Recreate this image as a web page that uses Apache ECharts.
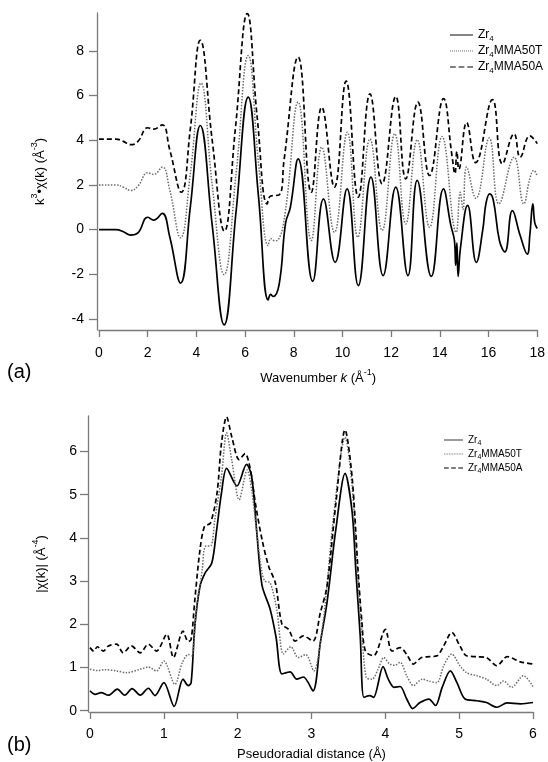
<!DOCTYPE html>
<html><head><meta charset="utf-8">
<script src="https://cdn.jsdelivr.net/npm/echarts@6/dist/echarts.min.js"></script>
<style>html,body{margin:0;padding:0;background:#fff}#c{width:548px;height:762px}</style>
</head><body><div id="c"></div>
<script>
// ---- (a) k^3-weighted EXAFS ----
var zr4K   = [0,0.7,1.0,1.3,1.6,2.0,2.25,2.6,2.9,3.35,3.75,4.16,4.65,5.14,5.63,6.13,6.55,6.95,7.05,7.15,7.4,7.66,7.86,8.18,8.78,9.22,9.70,10.19,10.65,11.17,11.67,12.19,12.69,13.07,13.65,14.15,14.45,14.6,14.65,14.7,14.75,14.85,15.14,15.5,15.76,15.9,16.05,16.2,16.45,16.67,16.98,17.3,17.59,17.7,17.82,17.9,18.0];
var zr4Chi = [0,0,-0.1,-0.25,-0.15,0.55,0.42,0.72,-0.3,-2.4,1.0,4.66,0.2,-4.27,0.8,5.93,1.5,-3.15,-2.9,-3.0,-2.45,0.27,1.0,3.17,-2.32,1.37,-1.47,1.82,-2.51,2.35,-2.06,1.9,-2.06,2.2,-2.1,1.82,0.2,-0.5,-1.6,-0.6,-2.1,-0.8,1.08,-1.47,-0.04,1.2,1.6,1.3,-0.5,-1.0,0.85,-0.27,-1.1,-0.2,1.15,0.3,0.05];
var t50K   = [0,0.7,1.0,1.3,1.6,2.0,2.25,2.6,2.9,3.35,3.75,4.19,4.65,5.14,5.63,6.13,6.55,6.95,7.05,7.2,7.36,7.66,8.18,8.72,9.15,9.67,10.2,10.63,11.13,11.63,12.15,12.6,13.07,13.58,14.09,14.67,14.84,14.95,15.1,15.48,16.03,16.43,17.05,17.45,17.7,17.86,18.0];
var t50Chi = [2.0,2.0,1.9,1.75,1.95,2.54,2.47,2.8,1.8,-0.37,2.5,6.56,2.0,-2.02,2.5,7.8,3.0,-0.72,-0.4,-0.5,-0.46,0.85,5.71,-0.49,3.69,-0.12,4.36,-0.34,4.06,-0.04,4.29,0.25,4.02,0.1,4.17,-0.12,1.67,0.9,2.8,1.4,4.1,1.15,3.24,1.15,2.3,2.65,2.4];
var a50K   = [0,0.7,1.0,1.3,1.6,2.0,2.25,2.6,2.9,3.38,3.75,4.16,4.65,5.15,5.6,6.09,6.5,6.91,7.05,7.4,7.6,8.18,8.72,9.15,9.67,10.15,10.65,11.13,11.63,12.19,12.6,13.1,13.58,14.15,14.5,14.62,14.7,14.78,15.1,15.47,16.16,16.57,17.05,17.3,17.7,18.0];
var a50Chi = [4.05,4.05,3.95,3.8,3.95,4.56,4.5,4.69,3.6,1.67,4.5,8.48,4.0,-0.07,4.5,9.67,5.0,1.15,1.5,1.55,3.1,7.73,1.67,5.48,1.9,6.65,1.45,6.08,2.05,5.96,2.27,5.71,2.42,5.86,3.3,2.5,3.5,2.7,4.8,3.0,5.82,2.94,4.29,3.24,4.2,3.85];
var topXTicks = [0,2,4,6,8,10,12,14,16,18];
var topYTicks = [-4,-2,0,2,4,6,8];

// ---- (b) Fourier transform magnitude ----
var zr4R  = [0,0.07,0.15,0.25,0.37,0.47,0.57,0.68,0.79,0.88,1.0,1.14,1.26,1.33,1.37,1.42,1.49,1.56,1.65,1.71,1.78,1.85,1.99,2.12,2.19,2.26,2.33,2.44,2.52,2.6,2.71,2.80,2.89,3.02,3.12,3.21,3.33,3.455,3.55,3.6,3.66,3.71,3.79,3.84,3.97,4.04,4.12,4.2,4.29,4.37,4.47,4.59,4.68,4.77,4.88,4.97,5.08,5.24,5.37,5.51,5.65,5.83,6.0];
var zr4Ft = [0.46,0.38,0.42,0.36,0.5,0.36,0.51,0.36,0.52,0.35,0.65,0.1,0.73,0.58,0.65,1.96,2.88,3.19,3.42,4.11,5.03,5.61,5.2,5.7,5.42,4.11,2.9,2.35,1.7,0.85,0.9,0.73,0.78,0.46,1.58,2.5,4.2,5.49,4.6,3.26,1.73,0.31,0.35,0.31,1.02,0.73,0.54,0.56,0.27,0.05,0.19,0.27,0.12,0.54,0.92,0.65,0.27,0.23,0.19,0.08,0.18,0.16,0.19];
var t50R  = [0,0.1,0.2,0.36,0.5,0.68,0.79,0.9,1.0,1.15,1.25,1.33,1.38,1.44,1.52,1.56,1.64,1.69,1.78,1.85,1.92,2.02,2.13,2.19,2.26,2.33,2.37,2.44,2.53,2.62,2.72,2.82,2.92,3.03,3.16,3.3,3.455,3.55,3.62,3.68,3.74,3.82,3.9,3.98,4.06,4.13,4.2,4.29,4.38,4.5,4.6,4.7,4.79,4.9,5.01,5.1,5.24,5.37,5.51,5.6,5.71,5.87,6.0];
var t50Ft = [0.96,0.93,0.95,0.92,0.88,0.96,1.01,0.92,1.15,0.61,1.11,1.3,1.27,2.34,3.26,3.8,3.82,4.42,5.41,6.43,5.8,4.88,5.57,5.1,4.1,3.19,3.0,2.96,2.34,1.31,1.48,1.23,1.3,0.92,2.1,4.5,6.33,5.2,3.26,1.9,0.77,0.73,0.95,1.23,1.08,1.05,1.12,0.81,0.58,0.73,0.68,0.65,1.04,1.31,1.04,0.88,0.81,0.73,0.58,0.69,0.54,0.81,0.56];
var a50R  = [0,0.05,0.1,0.18,0.25,0.36,0.45,0.56,0.68,0.79,0.9,1.04,1.13,1.26,1.33,1.37,1.42,1.49,1.55,1.63,1.72,1.78,1.85,1.92,2.02,2.1,2.17,2.24,2.33,2.42,2.51,2.6,2.69,2.78,2.89,3.02,3.12,3.21,3.33,3.455,3.55,3.63,3.68,3.73,3.84,4.0,4.09,4.2,4.29,4.38,4.49,4.6,4.7,4.79,4.9,5.01,5.1,5.24,5.37,5.51,5.65,5.83,6.0];
var a50Ft = [1.46,1.38,1.48,1.38,1.5,1.54,1.34,1.5,1.34,1.54,1.38,1.77,1.23,1.84,1.6,1.65,2.57,3.73,4.26,4.34,5.03,6.18,6.8,6.34,5.81,5.95,5.6,4.8,3.96,3.34,2.96,2.0,1.88,1.61,1.73,1.61,2.27,2.88,4.8,6.5,5.4,3.26,2.11,1.38,1.27,1.88,1.38,1.46,1.3,1.08,1.23,1.25,1.27,1.5,1.81,1.5,1.27,1.25,1.23,1.04,1.25,1.13,1.08];
var botXTicks = [0,1,2,3,4,5,6];
var botYTicks = [0,1,2,3,4,5,6];

var names = ['Zr4','Zr4MMA50T','Zr4MMA50A'];

function pairs(xs, ys){ return xs.map(function(x,i){ return [x, ys[i]]; }); }

var FONT = '"Liberation Sans", Arial, sans-serif';
var AX = '#7a7a7a';
var styles = [
  {color:'#000', width:1.7, type:'solid'},
  {color:'#6a6a6a', width:1.5, type:'dotted'},
  {color:'#000', width:1.7, type:[5,3]}
];

// legend icon shapes (line samples)
var solidIcon = 'path://M0,0H24V1H0Z';
var dashIcon = 'path://M0,0h6v1h-6zM9,0h6v1h-6zM18,0h6v1h-6z';
var dotIcon = (function(){ var s='path://'; for(var i=0;i<24;i+=2){ s+='M'+i+',0h1v1h-1z'; } return s; })();
var icons = [solidIcon, dotIcon, dashIcon];

function rich(size){
  return {
    n:{fontFamily:FONT, fontSize:size, color:'#000', lineHeight:size+8},
    i:{fontFamily:FONT, fontSize:size, color:'#000', fontStyle:'italic', lineHeight:size+8},
    sup:{fontFamily:FONT, fontSize:Math.round(size*0.7), color:'#000', verticalAlign:'top', lineHeight:size+8},
    sub:{fontFamily:FONT, fontSize:Math.round(size*0.7), color:'#000', verticalAlign:'bottom', lineHeight:size+6}
  };
}
function legRich(size){
  return {
    n:{fontFamily:FONT, fontSize:size, color:'#000', lineHeight:size+2},
    sub:{fontFamily:FONT, fontSize:Math.round(size*0.7), color:'#000', verticalAlign:'bottom', lineHeight:size+4}
  };
}
function legendFmt(name){ return '{n|Zr}{sub|4}{n|' + name.slice(3) + '}'; }

function mkSeries(name, data, xi, yi, st, smooth){
  return {name:name, type:'line', xAxisIndex:xi, yAxisIndex:yi, data:data,
    symbol:'none', smooth:smooth, silent:true, animation:false,
    lineStyle:{color:st.color, width:st.width, type:st.type}, itemStyle:{color:st.color}};
}

var axisCommon = {
  axisLine:{show:true, onZero:false, lineStyle:{color:AX, width:1.3}},
  axisTick:{show:true, length:7, lineStyle:{color:AX, width:1.3}},
  splitLine:{show:false},
  axisLabel:{color:'#000', fontFamily:FONT, fontSize:14}
};
function merge(a,b){ var o=JSON.parse(JSON.stringify(a)); for(var k in b){ if(typeof b[k]==='object' && !Array.isArray(b[k]) && o[k]){ for(var j in b[k]) o[k][j]=b[k][j]; } else o[k]=b[k]; } return o; }

function legendData(){ return names.map(function(n,i){ return {name:n, icon:icons[i], itemStyle:{color:styles[i].color}}; }); }

var option = {
  backgroundColor:'#fff',
  animation:false,
  grid:[
    {left:99, top:13, width:441, height:317},
    {left:90, top:416, width:443, height:297}
  ],
  xAxis:[
    merge(axisCommon, {type:'value', gridIndex:0, min:0, max:18, interval:2,
      axisLabel:{margin:16, fontSize:14, color:'#000', fontFamily:FONT},
      axisTick:{show:true, length:7, lineStyle:{color:AX, width:1.3}, customValues:topXTicks},
      name:'{n|Wavenumber }{i|k}{n| (Å}{sup|-1}{n|)}', nameLocation:'middle', nameGap:38,
      nameTextStyle:{rich:rich(13)}}),
    merge(axisCommon, {type:'value', gridIndex:1, min:0, max:6, interval:1,
      axisLabel:{margin:15, fontSize:14, color:'#000', fontFamily:FONT},
      name:'{n|Pseudoradial distance (Å)}', nameLocation:'middle', nameGap:32,
      nameTextStyle:{rich:rich(13)}})
  ],
  yAxis:[
    merge(axisCommon, {type:'value', gridIndex:0, min:-4.5, max:9.7, offset:2,
      axisTick:{show:true, length:8, lineStyle:{color:AX, width:1.3}, customValues:topYTicks},
      axisLabel:{margin:13, fontSize:14, color:'#000', fontFamily:FONT, customValues:topYTicks},
      name:'{n|k}{sup|3}{n|•χ(k) (Å}{sup|-3}{n|)}', nameLocation:'middle', nameGap:46, nameRotate:90,
      nameTextStyle:{rich:rich(13)}}),
    merge(axisCommon, {type:'value', gridIndex:1, min:-0.03, max:6.82, offset:2,
      axisTick:{show:true, length:8, lineStyle:{color:AX, width:1.3}, customValues:botYTicks},
      axisLabel:{margin:11, fontSize:14, color:'#000', fontFamily:FONT, customValues:botYTicks},
      name:'{n||χ(k)| (Å}{sup|-4}{n|)}', nameLocation:'middle', nameGap:36, nameRotate:90,
      nameTextStyle:{rich:rich(13)}})
  ],
  legend:[
    {data:legendData(), orient:'vertical', left:445, top:24, itemWidth:23, itemHeight:2.2, itemGap:2,
     formatter:legendFmt, textStyle:{rich:legRich(12), fontFamily:FONT}, selectedMode:false},
    {data:legendData(), orient:'vertical', left:439, top:430, itemWidth:19, itemHeight:2, itemGap:2,
     formatter:legendFmt, textStyle:{rich:legRich(10), fontFamily:FONT}, selectedMode:false}
  ],
  graphic:[
    {type:'text', left:7, top:362, style:{text:'(a)', font:'20px ' + FONT, fill:'#000'}},
    {type:'text', left:7, top:735, style:{text:'(b)', font:'20px ' + FONT, fill:'#000'}}
  ],
  series:[
    mkSeries(names[0], pairs(zr4K, zr4Chi), 0, 0, styles[0], 0.45),
    mkSeries(names[1], pairs(t50K, t50Chi), 0, 0, styles[1], 0.45),
    mkSeries(names[2], pairs(a50K, a50Chi), 0, 0, styles[2], 0.45),
    mkSeries(names[0], pairs(zr4R, zr4Ft), 1, 1, styles[0], 0.3),
    mkSeries(names[1], pairs(t50R, t50Ft), 1, 1, styles[1], 0.3),
    mkSeries(names[2], pairs(a50R, a50Ft), 1, 1, styles[2], 0.3)
  ]
};
var chart = echarts.init(document.getElementById('c'), null, {renderer:'canvas'});
chart.setOption(option);
</script></body></html>
